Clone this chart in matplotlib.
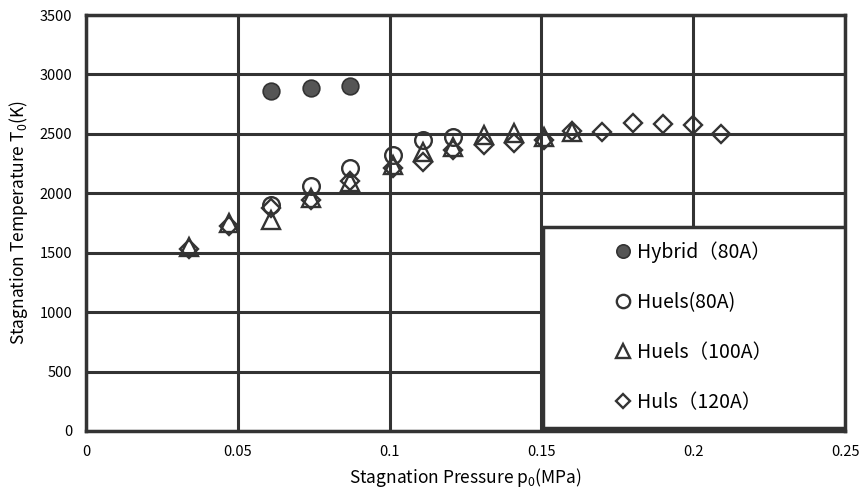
import matplotlib
matplotlib.use('Agg')
import matplotlib.pyplot as plt
from matplotlib.patches import Rectangle

plt.rcParams['font.family'] = ['Noto Sans CJK JP', 'DejaVu Sans']
plt.rcParams['mathtext.fontset'] = 'custom'
plt.rcParams['mathtext.rm'] = 'Noto Sans CJK JP'
plt.rcParams['mathtext.it'] = 'Noto Sans CJK JP'

# data
p_hybrid80 = [0.061, 0.074, 0.087]
t_hybrid80 = [2860, 2890, 2900]

p_huels80 = [0.061, 0.074, 0.087, 0.101, 0.111, 0.121]
t_huels80 = [1900, 2065, 2215, 2320, 2445, 2470]

p_huels100 = [0.034, 0.047, 0.061, 0.074, 0.087, 0.101, 0.111, 0.121, 0.131, 0.141, 0.151, 0.160]
t_huels100 = [1550, 1750, 1775, 1960, 2095, 2235, 2345, 2390, 2490, 2505, 2475, 2515]

p_huls120 = [0.034, 0.047, 0.061, 0.074, 0.087, 0.101, 0.111, 0.121, 0.131, 0.141, 0.151,
             0.160, 0.170, 0.180, 0.190, 0.200, 0.209]
t_huls120 = [1535, 1725, 1880, 1945, 2100, 2215, 2265, 2360, 2405, 2420, 2445,
             2520, 2515, 2590, 2585, 2575, 2500]

x_ticks = [0, 0.05, 0.1, 0.15, 0.2, 0.25]
x_tick_labels = ['0', '0.05', '0.1', '0.15', '0.2', '0.25']
y_ticks = [0, 500, 1000, 1500, 2000, 2500, 3000, 3500]

dark = '#333333'

fig = plt.figure(figsize=(8.63, 4.92), dpi=100)
ax = fig.add_axes([0.0997, 0.124, 0.8795, 0.8455])

ax.plot(p_hybrid80, t_hybrid80, 'o', ms=12, mfc='#555555', mec=dark, mew=1.2,
        label='Hybrid（80A）', zorder=5)
ax.plot(p_huels80, t_huels80, 'o', ms=12, mfc='none', mec=dark, mew=1.7,
        label='Huels(80A)', zorder=5)
ax.plot(p_huels100, t_huels100, '^', ms=12.5, mfc='none', mec=dark, mew=1.7,
        label='Huels（100A）', zorder=5)
ax.plot(p_huls120, t_huls120, 'D', ms=9.5, mfc='none', mec=dark, mew=1.7,
        label='Huls（120A）', zorder=5)

ax.set_xlim(0, 0.25)
ax.set_ylim(0, 3500)
ax.set_xticks(x_ticks)
ax.set_xticklabels(x_tick_labels)
ax.set_yticks(y_ticks)
ax.tick_params(length=0, labelsize=10.5, pad=10)
ax.grid(True, color=dark, lw=2.2)
ax.set_axisbelow(True)
for s in ax.spines.values():
    s.set_color(dark)
    s.set_linewidth(2.5)

ax.set_xlabel('Stagnation Pressure p$_0$(MPa)', fontsize=12.5, labelpad=5)
ax.set_ylabel('Stagnation Temperature T$_0$(K)', fontsize=12.5, labelpad=7)

# legend box
box = Rectangle((0.602, 0.006), 0.398, 0.484, transform=ax.transAxes,
                facecolor='white', edgecolor=dark, lw=2.5, zorder=6)
ax.add_patch(box)
leg = ax.legend(loc='center', bbox_to_anchor=(0.80, 0.25), frameon=False,
                fontsize=14, labelspacing=1.5, handletextpad=0.3,
                handlelength=0.9, markerscale=0.8)
leg.set_zorder(7)

fig.savefig('out.png', dpi=100)
